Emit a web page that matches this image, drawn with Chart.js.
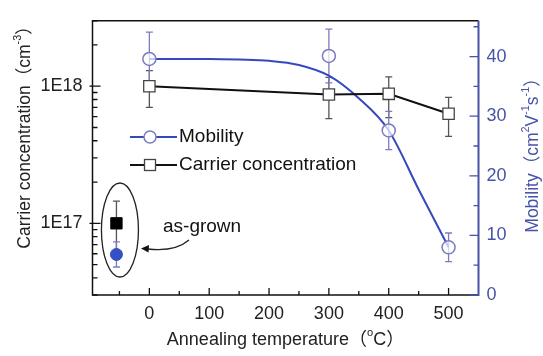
<!DOCTYPE html>
<html>
<head>
<meta charset="utf-8">
<script src="https://cdn.jsdelivr.net/npm/chart.js@4/dist/chart.umd.min.js"></script>
<style>
  html, body { margin: 0; padding: 0; background: #fff; }
  #wrap { width: 543px; height: 356px; }
</style>
</head>
<body>
<div id="wrap"><canvas id="myChart" width="543" height="356"></canvas></div>
<script>
// valeurs
const temps = [0, 300, 400, 500];
const carrier = [1.0e18, 8.7e17, 8.8e17, 6.3e17];
const carrierErr = [3.0e17, 2.9e17, 2.9e17, 2.0e17];
const mobility = [39.6, 40.1, 27.6, 8.0];
const mobilityErr = [4.5, 4.5, 3.2, 2.4];

// courbe bleue (ajustement)
const fitTemps = [0, 50, 100, 150, 200, 250, 300, 350, 400, 450, 500];
const fitMobility = [39.6, 39.6, 39.6, 39.5, 39.3, 38.6, 36.8, 33.0, 27.6, 17.7, 8.0];

// échantillon brut (as-grown)
const grownTemp = [-55];
const grownCarrier = [1.0e17];
const grownCarrierErr = [0.45e17];
const grownMobility = [6.8];
const grownMobilityErr = [2.1];

// graduations
const xTicks = [-50, 0, 50, 100, 150, 200, 250, 300, 350, 400, 450, 500];
const xLabels = [0, 100, 200, 300, 400, 500];
const yLogTicks = [3e16, 4e16, 5e16, 6e16, 7e16, 8e16, 9e16, 1e17, 2e17, 3e17, 4e17, 5e17, 6e17, 7e17, 8e17, 9e17, 1e18, 2e18, 3e18];
const yLogLabels = { 1e17: '1E17', 1e18: '1E18' };
const yRightTicks = [0, 5, 10, 15, 20, 25, 30, 35, 40, 45];
const yRightLabels = [0, 10, 20, 30, 40];

const FONT = '"Liberation Sans", Arial, "Noto Sans CJK SC", sans-serif';
const BLUE_LINE = '#3548c0';
const BLUE_MARK = '#7b7cc0';
const BLUE_AXIS = '#4653a8';

const pts = (xs, ys) => xs.map((x, i) => ({ x: x, y: ys[i] }));

// texte avec exposants
function richWidth(ctx, parts, size) {
    let w = 0;
    parts.forEach(p => {
        ctx.font = (p.sup ? size * 0.62 : size) + 'px ' + FONT;
        w += ctx.measureText(p.t).width;
    });
    return w;
}
function drawRich(ctx, parts, cx, cy, size, rot, color) {
    ctx.save();
    ctx.translate(cx, cy);
    ctx.rotate(rot);
    ctx.fillStyle = color;
    ctx.textBaseline = 'middle';
    ctx.textAlign = 'left';
    let x = -richWidth(ctx, parts, size) / 2;
    parts.forEach(p => {
        ctx.font = (p.sup ? size * 0.62 : size) + 'px ' + FONT;
        ctx.fillText(p.t, x, p.sup ? -size * 0.42 : 0);
        x += ctx.measureText(p.t).width;
    });
    ctx.restore();
}

const errorBars = {
    id: 'errorBars',
    beforeDatasetsDraw(chart) {
        const ctx = chart.ctx;
        const sx = chart.scales.x, sy = chart.scales.y, sy2 = chart.scales.y2;
        function bar(x, lo, hi, color) {
            ctx.strokeStyle = color;
            ctx.lineWidth = 1.3;
            ctx.beginPath();
            ctx.moveTo(x, lo); ctx.lineTo(x, hi);
            ctx.moveTo(x - 3.5, lo); ctx.lineTo(x + 3.5, lo);
            ctx.moveTo(x - 3.5, hi); ctx.lineTo(x + 3.5, hi);
            ctx.stroke();
        }
        ctx.save();
        temps.forEach((t, i) => {
            const x = sx.getPixelForValue(t);
            bar(x, sy.getPixelForValue(carrier[i] - carrierErr[i]), sy.getPixelForValue(carrier[i] + carrierErr[i]), '#555');
            bar(x, sy2.getPixelForValue(mobility[i] - mobilityErr[i]), sy2.getPixelForValue(mobility[i] + mobilityErr[i]), BLUE_MARK);
        });
        grownTemp.forEach((t, i) => {
            const x = sx.getPixelForValue(t);
            bar(x, sy.getPixelForValue(grownCarrier[i] - grownCarrierErr[i]), sy.getPixelForValue(grownCarrier[i] + grownCarrierErr[i]), '#555');
            bar(x, sy2.getPixelForValue(grownMobility[i] - grownMobilityErr[i]), sy2.getPixelForValue(grownMobility[i] + grownMobilityErr[i]), BLUE_MARK);
        });
        ctx.restore();
    }
};

const frameAndText = {
    id: 'frameAndText',
    afterDraw(chart) {
        const ctx = chart.ctx;
        const a = chart.chartArea;
        const sx = chart.scales.x, sy = chart.scales.y, sy2 = chart.scales.y2;
        ctx.save();

        // cadre
        ctx.strokeStyle = '#111';
        ctx.lineWidth = 1.5;
        ctx.beginPath();
        ctx.moveTo(a.right, a.top); ctx.lineTo(a.left, a.top);
        ctx.lineTo(a.left, a.bottom); ctx.lineTo(a.right, a.bottom);
        ctx.stroke();
        ctx.strokeStyle = BLUE_AXIS;
        ctx.lineWidth = 2;
        ctx.beginPath();
        ctx.moveTo(a.right, a.top); ctx.lineTo(a.right, a.bottom + 1);
        ctx.stroke();

        // petites graduations vers l'intérieur
        ctx.lineWidth = 1.3;
        ctx.strokeStyle = '#111';
        ctx.beginPath();
        xTicks.forEach(v => {
            const x = sx.getPixelForValue(v);
            const len = v % 100 === 0 ? 7 : 4;
            ctx.moveTo(x, a.bottom); ctx.lineTo(x, a.bottom - len);
        });
        yLogTicks.forEach(v => {
            const y = sy.getPixelForValue(v);
            const major = yLogLabels[v] !== undefined;
            ctx.moveTo(a.left - (major ? 3 : 0), y); ctx.lineTo(a.left + (major ? 8 : 5), y);
        });
        ctx.stroke();
        ctx.strokeStyle = BLUE_AXIS;
        ctx.beginPath();
        yRightTicks.forEach(v => {
            const y = sy2.getPixelForValue(v);
            const len = v % 10 === 0 ? 9 : 5;
            ctx.moveTo(a.right, y); ctx.lineTo(a.right - len, y);
        });
        ctx.stroke();

        // titres des axes
        drawRich(ctx, [{ t: 'Annealing temperature（' }, { t: 'o', sup: true }, { t: 'C）' }],
            (a.left + a.right) / 2, 340, 18, 0, '#222');
        drawRich(ctx, [{ t: 'Carrier concentration（cm' }, { t: '-3', sup: true }, { t: '）' }],
            25, 133, 17.5, -Math.PI / 2, '#222');
        drawRich(ctx, [{ t: 'Mobility（cm' }, { t: '2', sup: true }, { t: 'V' }, { t: '-1', sup: true }, { t: 's' }, { t: '-1', sup: true }, { t: '）' }],
            533, 151, 17.5, -Math.PI / 2, BLUE_AXIS);

        // légende
        ctx.lineWidth = 2;
        ctx.strokeStyle = BLUE_LINE;
        ctx.beginPath(); ctx.moveTo(130, 137); ctx.lineTo(177, 137); ctx.stroke();
        ctx.fillStyle = '#fff';
        ctx.strokeStyle = BLUE_MARK;
        ctx.lineWidth = 1.5;
        ctx.beginPath(); ctx.arc(150, 137, 6, 0, Math.PI * 2); ctx.fill(); ctx.stroke();
        ctx.strokeStyle = '#111';
        ctx.lineWidth = 2;
        ctx.beginPath(); ctx.moveTo(130, 165); ctx.lineTo(177, 165); ctx.stroke();
        ctx.fillStyle = '#fff';
        ctx.strokeStyle = '#444';
        ctx.lineWidth = 1.3;
        ctx.fillRect(144.5, 159.5, 11, 11); ctx.strokeRect(144.5, 159.5, 11, 11);
        ctx.fillStyle = '#111';
        ctx.font = '19px ' + FONT;
        ctx.textBaseline = 'middle';
        ctx.textAlign = 'left';
        ctx.fillText('Mobility', 179, 137);
        ctx.fillText('Carrier concentration', 179, 165);

        // ellipse + flèche "as-grown"
        const gx = sx.getPixelForValue(grownTemp[0]);
        ctx.strokeStyle = '#222';
        ctx.lineWidth = 1.3;
        ctx.beginPath(); ctx.ellipse(gx + 3.5, 230, 18.5, 47, 0, 0, Math.PI * 2); ctx.stroke();
        ctx.beginPath();
        ctx.moveTo(189, 240);
        ctx.quadraticCurveTo(175, 252, 148, 249);
        ctx.stroke();
        ctx.fillStyle = '#111';
        ctx.beginPath();
        ctx.moveTo(141, 248.5); ctx.lineTo(149, 245); ctx.lineTo(148.5, 252.5); ctx.closePath();
        ctx.fill();
        ctx.fillText('as-grown', 163, 227);

        ctx.restore();
    }
};

let myChart;
document.addEventListener('DOMContentLoaded', function() {
    const ctx = document.getElementById('myChart').getContext('2d');
    myChart = new Chart(ctx, {
        type: 'scatter',
        data: {
            datasets: [
                {
                    label: 'fit',
                    type: 'line',
                    data: pts(fitTemps, fitMobility),
                    yAxisID: 'y2',
                    borderColor: BLUE_LINE,
                    borderWidth: 2,
                    pointRadius: 0,
                    cubicInterpolationMode: 'monotone',
                    fill: false,
                    order: 6
                },
                {
                    label: 'Carrier concentration',
                    type: 'line',
                    data: pts(temps, carrier),
                    yAxisID: 'y',
                    borderColor: '#111',
                    borderWidth: 2,
                    tension: 0,
                    pointStyle: 'rect',
                    pointRadius: 8,
                    pointBackgroundColor: '#fff',
                    pointBorderColor: '#444',
                    pointBorderWidth: 1.3,
                    order: 5
                },
                {
                    label: 'Mobility',
                    data: pts(temps, mobility),
                    yAxisID: 'y2',
                    showLine: false,
                    pointStyle: 'circle',
                    pointRadius: 6.5,
                    pointBackgroundColor: 'rgba(255,255,255,0.7)',
                    pointBorderColor: BLUE_MARK,
                    pointBorderWidth: 1.5,
                    order: 4
                },
                {
                    label: 'as-grown carrier',
                    data: pts(grownTemp, grownCarrier),
                    yAxisID: 'y',
                    pointStyle: 'rect',
                    pointRadius: 8,
                    pointBackgroundColor: '#000',
                    pointBorderColor: '#000',
                    order: 2
                },
                {
                    label: 'as-grown mobility',
                    data: pts(grownTemp, grownMobility),
                    yAxisID: 'y2',
                    pointStyle: 'circle',
                    pointRadius: 6,
                    pointBackgroundColor: '#3550c6',
                    pointBorderColor: '#3550c6',
                    order: 1
                }
            ]
        },
        options: {
            responsive: false,
            animation: false,
            devicePixelRatio: 1,
            layout: { padding: { top: 12.7, left: 0, right: 0, bottom: 0 } },
            plugins: {
                legend: { display: false },
                tooltip: { enabled: false }
            },
            scales: {
                x: {
                    type: 'linear',
                    min: -95,
                    max: 550,
                    afterBuildTicks: s => { s.ticks = xTicks.map(v => ({ value: v })); },
                    afterFit: s => { s.height = 61; },
                    grid: { display: false, drawTicks: false },
                    border: { display: false },
                    ticks: {
                        autoSkip: false,
                        maxRotation: 0,
                        padding: 8,
                        color: '#222',
                        font: { family: FONT, size: 18 },
                        callback: v => xLabels.includes(v) ? String(v) : ''
                    }
                },
                y: {
                    type: 'logarithmic',
                    position: 'left',
                    min: 3e16,
                    max: 3e18,
                    afterBuildTicks: s => { s.ticks = yLogTicks.map(v => ({ value: v })); },
                    afterFit: s => { s.width = 92.5; },
                    grid: { display: false, drawTicks: false },
                    border: { display: false },
                    ticks: {
                        autoSkip: false,
                        padding: 10,
                        color: '#222',
                        font: { family: FONT, size: 18 },
                        callback: v => yLogLabels[v] || ''
                    }
                },
                y2: {
                    type: 'linear',
                    position: 'right',
                    min: 0,
                    max: 46,
                    afterBuildTicks: s => { s.ticks = yRightTicks.map(v => ({ value: v })); },
                    afterFit: s => { s.width = 64.5; },
                    grid: { display: false, drawTicks: false },
                    border: { display: false },
                    ticks: {
                        autoSkip: false,
                        padding: 8,
                        color: BLUE_AXIS,
                        font: { family: FONT, size: 18 },
                        callback: v => yRightLabels.includes(v) ? String(v) : ''
                    }
                }
            }
        },
        plugins: [errorBars, frameAndText]
    });
});
</script>
</body>
</html>
